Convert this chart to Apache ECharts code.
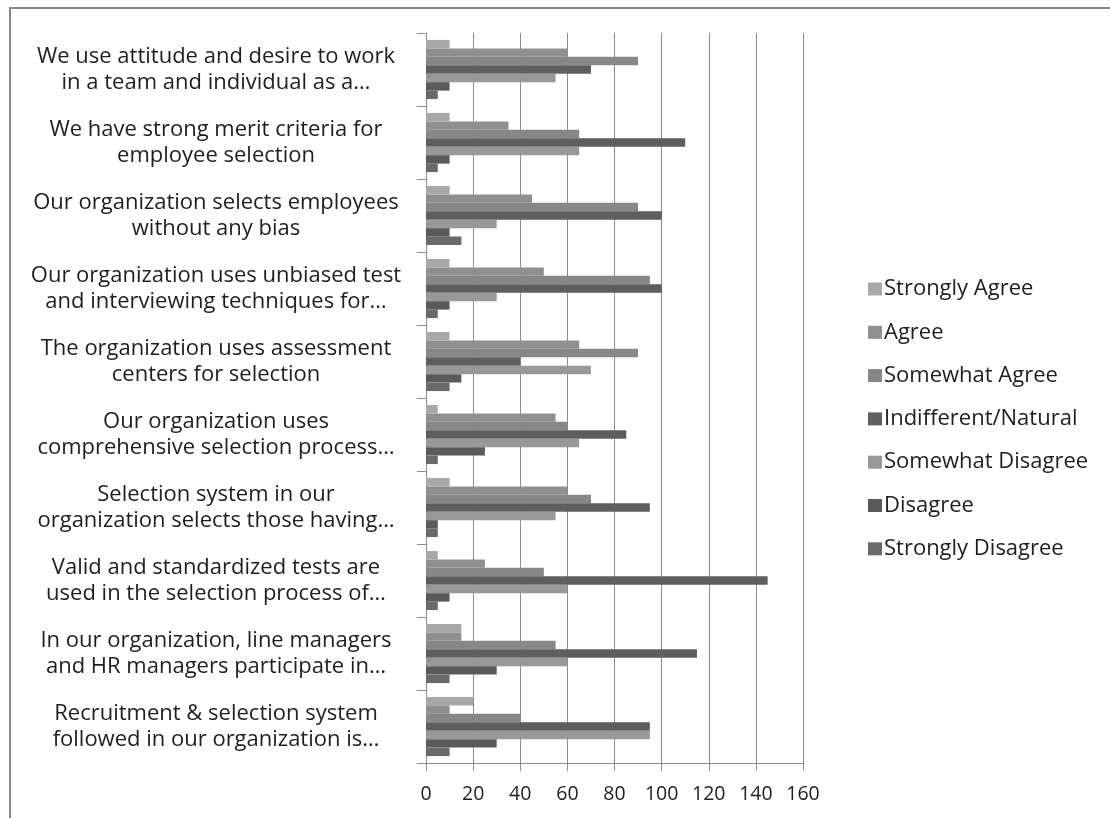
<!DOCTYPE html>
<html>
<head>
<meta charset="utf-8">
<script src="https://cdn.jsdelivr.net/npm/echarts@6/dist/echarts.min.js"></script>
<style>
  html, body { margin: 0; padding: 0; background: #fff; }
  #chart { width: 1110px; height: 818px; }
</style>
</head>
<body>
<div id="chart"></div>
<script>
// Survey statements, listed top to bottom
const statements = [
  'We use attitude and desire to work\nin a team and individual as a…',
  'We have strong merit criteria for\nemployee selection',
  'Our organization selects employees\nwithout any bias',
  'Our organization uses unbiased test\nand interviewing techniques for…',
  'The organization uses assessment\ncenters for selection',
  'Our organization uses\ncomprehensive selection process…',
  'Selection system in our\norganization selects those having…',
  'Valid and standardized tests are\nused in the selection process of…',
  'In our organization, line managers\nand HR managers participate in…',
  'Recruitment & selection system\nfollowed in our organization is…'
];

const responseNames = [
  'Strongly Agree', 'Agree', 'Somewhat Agree', 'Indifferent/Natural',
  'Somewhat Disagree', 'Disagree', 'Strongly Disagree'
];

// Response counts per statement (same order as statements)
const stronglyAgree    = [10, 10, 10, 10, 10, 5, 10, 5, 15, 20];
const agree            = [60, 35, 45, 50, 65, 55, 60, 25, 15, 10];
const somewhatAgree    = [90, 65, 90, 95, 90, 60, 70, 50, 55, 40];
const indifferent      = [70, 110, 100, 100, 40, 85, 95, 145, 115, 95];
const somewhatDisagree = [55, 65, 30, 30, 70, 65, 55, 60, 60, 95];
const disagree         = [10, 10, 10, 10, 15, 25, 5, 10, 30, 30];
const stronglyDisagree = [5, 5, 15, 5, 10, 5, 5, 5, 10, 10];

const xTicks = [0, 20, 40, 60, 80, 100, 120, 140, 160];

const seriesValues = [stronglyAgree, agree, somewhatAgree, indifferent,
  somewhatDisagree, disagree, stronglyDisagree];
const seriesColors = ['#a8a8a8', '#8f8f8f', '#878787', '#5e5e5e',
  '#989898', '#5a5a5a', '#6a6a6a'];

const FONT = 'Open Sans';
const chart = echarts.init(document.getElementById('chart'));

chart.setOption({
  animation: false,
  backgroundColor: '#ffffff',
  textStyle: { fontFamily: FONT },
  graphic: [{
    type: 'polyline',
    shape: { points: [[10, 830], [10, 8], [1120, 8]] },
    style: { stroke: '#878787', lineWidth: 2, fill: null },
    silent: true
  }],
  legend: {
    orient: 'vertical',
    left: 863,
    top: 273,
    itemWidth: 14,
    itemHeight: 13,
    itemGap: 21.3,
    icon: 'rect',
    textStyle: { fontFamily: FONT, fontSize: 22, color: '#1e1e1e', padding: [0, 0, 0, -3] },
    data: responseNames
  },
  grid: { left: 426, right: 307, top: 33, bottom: 55, containLabel: false },
  xAxis: {
    type: 'value',
    min: xTicks[0],
    max: xTicks[xTicks.length - 1],
    interval: xTicks[1] - xTicks[0],
    axisLine: { show: true, lineStyle: { color: '#8c8c8c', width: 1 } },
    axisTick: { show: true, length: 8, lineStyle: { color: '#8c8c8c' } },
    axisLabel: { fontFamily: FONT, fontSize: 19.5, color: '#1e1e1e', margin: 21 },
    splitLine: { show: true, lineStyle: { color: '#8c8c8c', width: 1 } }
  },
  yAxis: {
    type: 'category',
    inverse: true,
    data: statements,
    axisLine: { show: true, lineStyle: { color: '#8c8c8c', width: 1 } },
    axisTick: { show: true, length: 9, lineStyle: { color: '#8c8c8c' } },
    axisLabel: {
      fontFamily: FONT, fontSize: 22, color: '#1e1e1e',
      align: 'center', margin: 210, lineHeight: 26
    }
  },
  series: responseNames.map((name, i) => ({
    name: name,
    type: 'bar',
    data: seriesValues[i],
    barGap: '0%',
    barCategoryGap: '19%',
    itemStyle: { color: seriesColors[i] }
  }))
});
</script>
</body>
</html>
